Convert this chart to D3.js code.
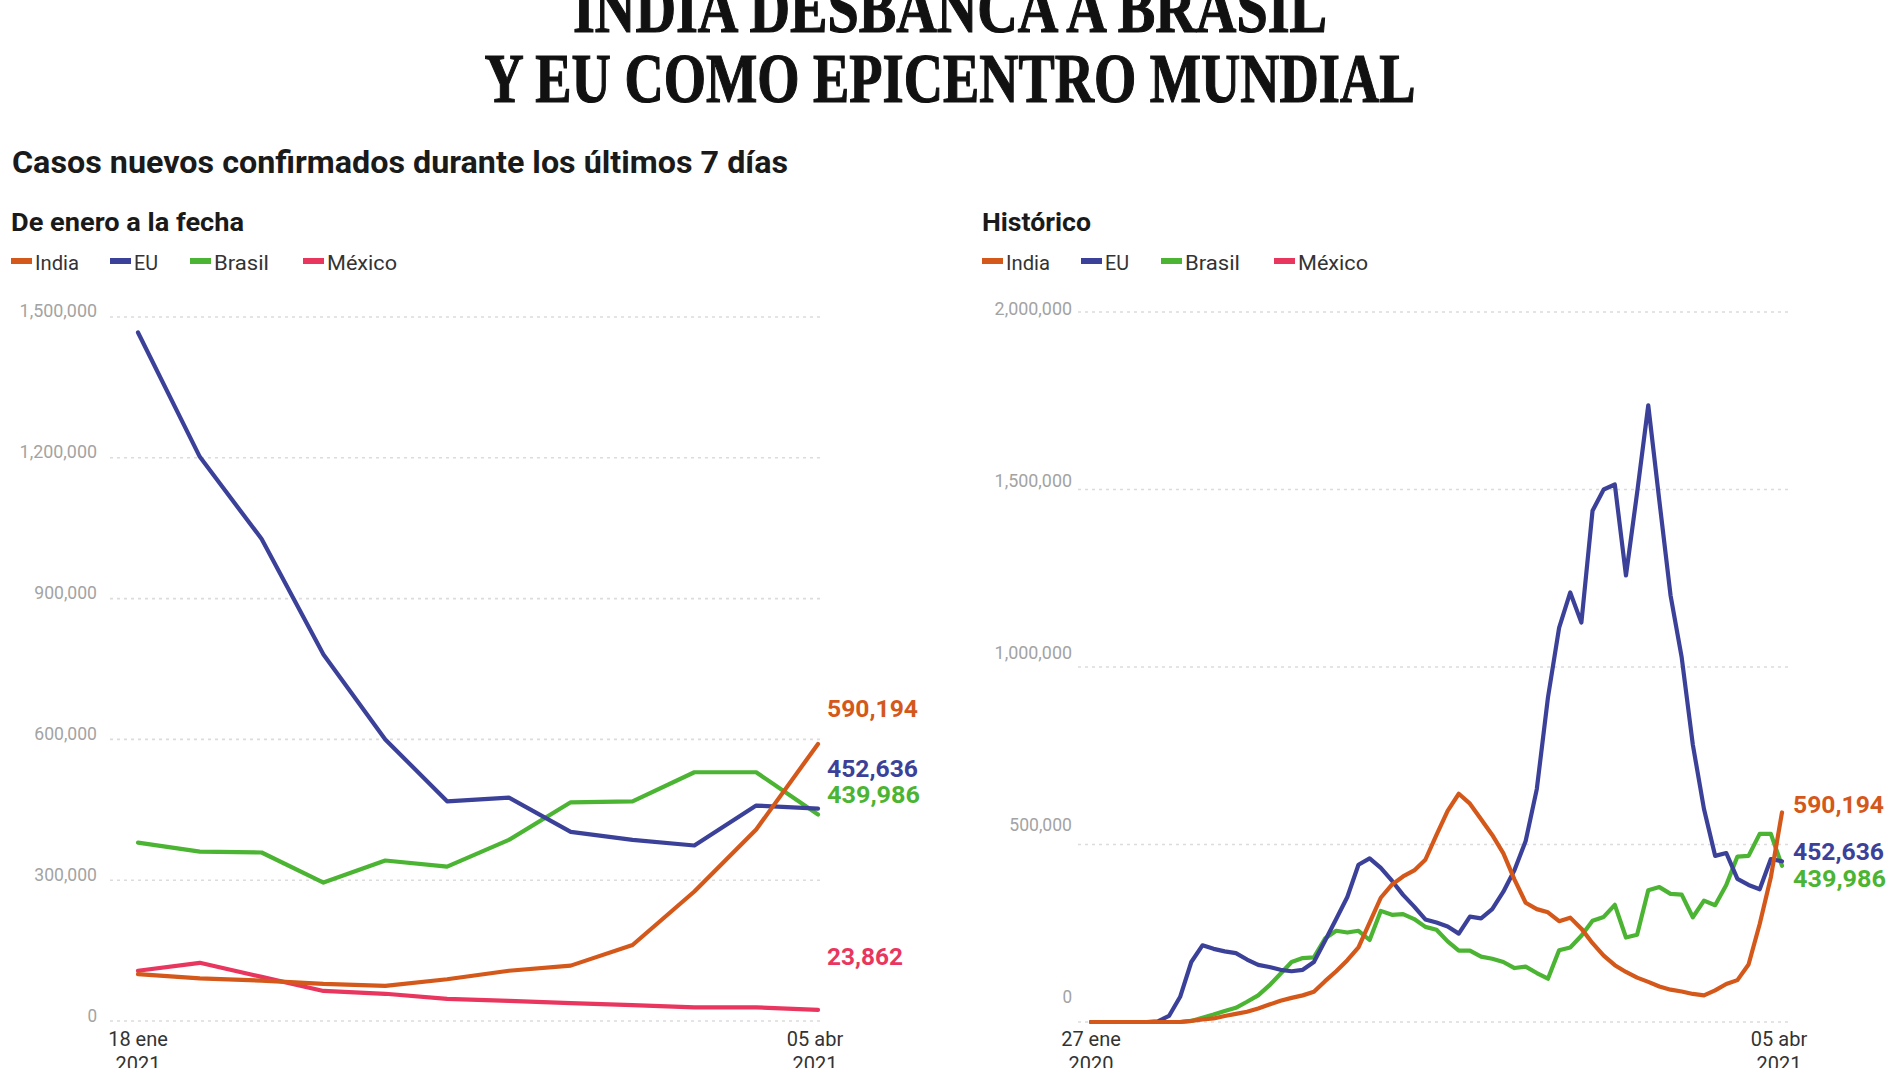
<!DOCTYPE html>
<html><head><meta charset="utf-8">
<script src="https://cdn.jsdelivr.net/npm/d3@7/dist/d3.min.js"></script>
<style>body{margin:0;background:#fff;}svg{display:block;}</style>
</head><body>
<svg id="c" width="1900" height="1068"></svg>
<script>
// ---------- DATA ----------
const seriesNames  = ["India", "EU", "Brasil", "México"];
const seriesColors = ["#d4581a", "#3b4199", "#4bb432", "#e8365f"];

// "De enero a la fecha" : weekly, 18 ene 2021 -> 05 abr 2021
const recentStart = [2021, 0, 18], recentEnd = [2021, 3, 5];
const indiaRecent  = [100000, 91000, 86000, 79000, 75000, 89000, 107000, 118000, 162000, 276000, 408000, 590194];
const euRecent     = [1467000, 1202000, 1027000, 781000, 600000, 468000, 476000, 403000, 386000, 374000, 459000, 452636];
const brasilRecent = [380000, 361000, 359000, 295000, 342000, 329000, 386000, 466000, 468000, 530000, 530000, 439986];
const mexicoRecent = [107000, 124000, 94000, 64000, 58000, 47000, 43000, 38000, 34000, 29000, 29000, 23862];

// "Histórico" : weekly, 27 ene 2020 -> 05 abr 2021
const histStart = [2020, 0, 27], histEnd = [2021, 3, 5];
const indiaHist = [0, 0, 0, 0, 0, 0, 0, 0, 0, 3000, 7000, 10000, 17000, 23000, 29000, 38000, 49000, 60000, 68000, 75000,
  85000, 115000, 143000, 174000, 210000, 280000, 350000, 387000, 410000, 427000, 457000, 527000, 595000, 643000, 615000,
  571000, 527000, 475000, 401000, 336000, 318000, 309000, 284000, 294000, 263000, 222000, 187000, 160000, 141000, 125000,
  113000, 100000, 91000, 86000, 79000, 75000, 89000, 107000, 118000, 162000, 276000, 408000, 590194];
const euHist = [0, 0, 0, 0, 0, 0, 2000, 17000, 71000, 169000, 216000, 206000, 199000, 194000, 176000, 161000, 155000,
  147000, 143000, 147000, 169000, 229000, 290000, 352000, 443000, 461000, 434000, 398000, 358000, 325000, 289000, 280000,
  269000, 249000, 297000, 292000, 318000, 367000, 428000, 510000, 656000, 914000, 1110000, 1210000, 1125000, 1440000,
  1500000, 1514000, 1258000, 1491000, 1737000, 1467000, 1202000, 1027000, 781000, 600000, 468000, 476000, 403000,
  386000, 374000, 459000, 452636];
const brasilHist = [0, 0, 0, 0, 0, 0, 0, 0, 0, 3000, 12000, 21000, 31000, 40000, 57000, 75000, 103000, 136000, 169000,
  180000, 182000, 235000, 257000, 252000, 257000, 231000, 313000, 302000, 304000, 290000, 268000, 260000, 227000, 201000,
  201000, 184000, 178000, 169000, 152000, 156000, 138000, 122000, 202000, 210000, 243000, 285000, 296000, 330000, 238000,
  246000, 371000, 380000, 361000, 359000, 295000, 342000, 329000, 386000, 466000, 468000, 530000, 530000, 439986];

const yTicksRecent = [0, 300000, 600000, 900000, 1200000, 1500000];
const yTicksHist   = [0, 500000, 1000000, 1500000, 2000000];
const xTicksRecent = [["18 ene", "2021"], ["05 abr", "2021"]];
const xTicksHist   = [["27 ene", "2020"], ["05 abr", "2021"]];

const titleLines = ["INDIA DESBANCA A BRASIL", "Y EU COMO EPICENTRO MUNDIAL"];
const subtitle = "Casos nuevos confirmados durante los últimos 7 días";
const panelTitles = ["De enero a la fecha", "Histórico"];

// ---------- DRAW ----------
const svg = d3.select("#c");
svg.append("rect").attr("width", 1900).attr("height", 1068).attr("fill", "#fff");
const SANS = "Roboto, 'Open Sans', sans-serif";
const fmt = d3.format(",");
const mk = a => new Date(a[0], a[1], a[2]);

// Title
[[31.7, 754], [101.7, 931]].forEach(([y, w], i) => {
  svg.append("text").attr("x", 950).attr("y", y).attr("text-anchor", "middle")
    .attr("font-family", "'Liberation Serif', 'DejaVu Serif', serif").attr("font-weight", "bold")
    .attr("font-size", 69).attr("textLength", w).attr("lengthAdjust", "spacingAndGlyphs")
    .attr("fill", "#111").attr("stroke", "#111").attr("stroke-width", 1.2)
    .text(titleLines[i]);
});
svg.append("text").attr("x", 12).attr("y", 173).attr("font-family", SANS).attr("font-weight", "bold")
  .attr("font-size", 31).attr("textLength", 776).attr("lengthAdjust", "spacingAndGlyphs")
  .attr("fill", "#1a1a1a").text(subtitle);

function panel(cfg) {
  const g = svg.append("g");
  g.append("text").attr("x", cfg.x0).attr("y", 231).attr("font-family", SANS).attr("font-weight", "bold")
    .attr("font-size", 26.5).attr("textLength", cfg.titleW).attr("lengthAdjust", "spacingAndGlyphs")
    .attr("fill", "#1a1a1a").text(cfg.title);

  // legend
  const legOff = [0, 99, 179, 292], legW = [44, 24, 55, 70];
  seriesNames.forEach((n, i) => {
    const lx = cfg.x0 + legOff[i];
    g.append("rect").attr("x", lx).attr("y", 258).attr("width", 21).attr("height", 6).attr("fill", seriesColors[i]);
    g.append("text").attr("x", lx + 24).attr("y", 269.5).attr("font-family", SANS).attr("font-size", 21)
      .attr("textLength", legW[i]).attr("lengthAdjust", "spacingAndGlyphs").attr("fill", "#333").text(n);
  });

  const dates = d3.timeMonday.range(mk(cfg.start), d3.timeDay.offset(mk(cfg.end), 1));
  const x = d3.scaleTime().domain([dates[0], dates[dates.length - 1]]).range(cfg.xRange);
  const y = d3.scaleLinear().domain(cfg.yDomain).range(cfg.yRange);
  const yLab = d3.scaleLinear().domain(cfg.yDomain).range(cfg.yLabRange);

  // grid
  g.append("g").selectAll("line").data(cfg.yTicks).join("line")
    .attr("x1", cfg.gridX[0]).attr("x2", cfg.gridX[1]).attr("y1", d => y(d)).attr("y2", d => y(d))
    .attr("stroke", "#dcdcdc").attr("stroke-width", 1.6).attr("stroke-dasharray", "3,4");
  g.append("g").selectAll("text").data(cfg.yTicks).join("text")
    .attr("x", cfg.labX).attr("y", d => yLab(d)).attr("text-anchor", "end")
    .attr("font-family", SANS).attr("font-size", 18).attr("fill", "#a3a3a3")
    .attr("textLength", d => fmt(d).length * 9.6 - (fmt(d).match(/,/g) || []).length * 4.5)
    .attr("lengthAdjust", "spacingAndGlyphs").text(d => fmt(d));

  // x labels
  [dates[0], dates[dates.length - 1]].forEach((d, i) => {
    const t = g.append("text").attr("x", x(d) - (i ? 3 : 0)).attr("text-anchor", "middle")
      .attr("font-family", SANS).attr("font-size", 20).attr("fill", "#333");
    t.append("tspan").attr("x", x(d) - (i ? 3 : 0)).attr("y", 1046).text(cfg.xTicks[i][0]);
    t.append("tspan").attr("x", x(d) - (i ? 3 : 0)).attr("y", 1071).text(cfg.xTicks[i][1]);
  });

  const line = d3.line().x((v, i) => x(dates[i])).y(v => y(v));
  cfg.series.forEach(s => {
    g.append("path").datum(s.values).attr("d", line).attr("fill", "none")
      .attr("stroke", seriesColors[s.idx]).attr("stroke-width", 4.2)
      .attr("stroke-linejoin", "round").attr("stroke-linecap", "round");
  });
  cfg.labels.forEach(l => {
    const s = cfg.series.find(z => z.idx === l.idx);
    g.append("text").attr("x", cfg.valX).attr("y", l.y).attr("font-family", SANS).attr("font-weight", "bold")
      .attr("font-size", 23.5).attr("textLength", l.w).attr("lengthAdjust", "spacingAndGlyphs")
      .attr("fill", seriesColors[l.idx]).text(fmt(s.values[s.values.length - 1]));
  });
}

panel({
  x0: 11, title: panelTitles[0], titleW: 233, start: recentStart, end: recentEnd,
  xRange: [138, 818], yDomain: [0, 1500000], yRange: [1021, 317], yLabRange: [1021.5, 317],
  yTicks: yTicksRecent, gridX: [110, 820], labX: 97, xTicks: xTicksRecent, valX: 827,
  series: [{idx: 3, values: mexicoRecent}, {idx: 2, values: brasilRecent}, {idx: 1, values: euRecent}, {idx: 0, values: indiaRecent}],
  labels: [{idx: 0, y: 717, w: 91}, {idx: 1, y: 777, w: 91}, {idx: 2, y: 803, w: 93}, {idx: 3, y: 965, w: 76}]
});
panel({
  x0: 982, title: panelTitles[1], titleW: 109, start: histStart, end: histEnd,
  xRange: [1091, 1782], yDomain: [0, 2000000], yRange: [1022, 312], yLabRange: [1003, 315],
  yTicks: yTicksHist, gridX: [1078, 1788], labX: 1072, xTicks: xTicksHist, valX: 1793,
  series: [{idx: 2, values: brasilHist}, {idx: 1, values: euHist}, {idx: 0, values: indiaHist}],
  labels: [{idx: 0, y: 813, w: 91}, {idx: 1, y: 860, w: 91}, {idx: 2, y: 887, w: 93}]
});
</script>
</body></html>
